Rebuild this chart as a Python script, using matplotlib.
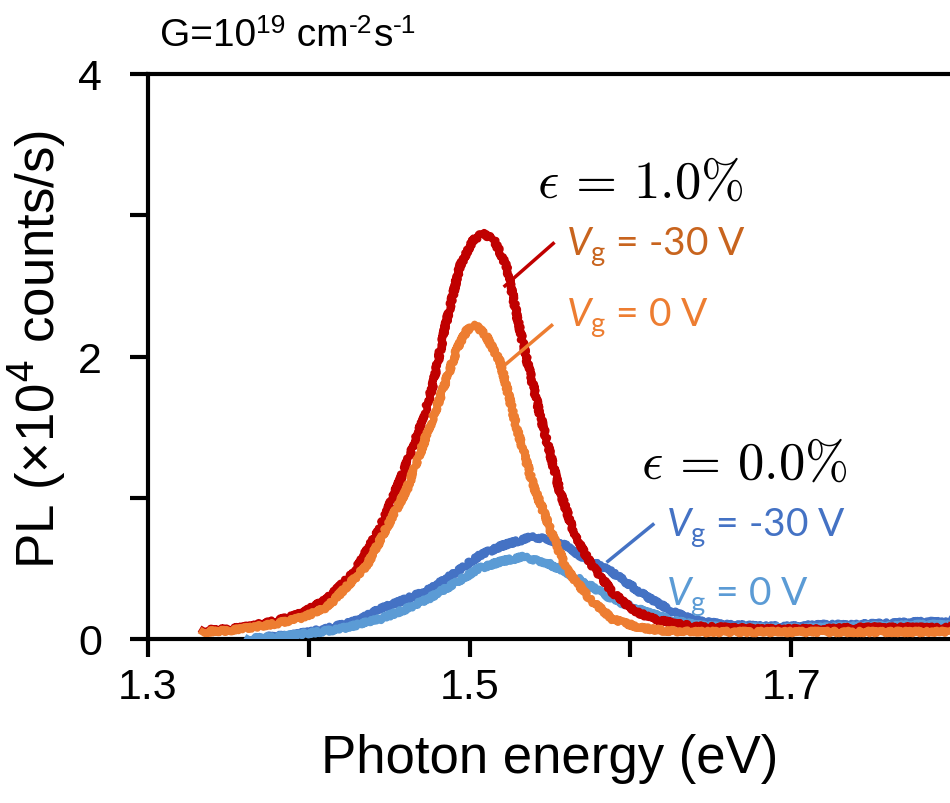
import matplotlib
matplotlib.use("Agg")
import matplotlib.pyplot as plt

plt.rcParams['font.family'] = ['Liberation Sans', 'DejaVu Sans']
plt.rcParams['mathtext.fontset'] = 'custom'
plt.rcParams['mathtext.rm'] = 'Lato'
plt.rcParams['mathtext.it'] = 'Lato:italic'

# ---- data ----
red_E = [1.334, 1.35, 1.363, 1.38, 1.395, 1.411, 1.428, 1.444, 1.457, 1.469, 1.477, 1.485,
         1.494, 1.502, 1.508, 1.515, 1.523, 1.533, 1.544, 1.556, 1.566, 1.575, 1.589, 1.602,
         1.615, 1.627, 1.64, 1.66, 1.68, 1.70, 1.72, 1.74, 1.76, 1.78, 1.80]
red_PL = [0.06, 0.07, 0.09, 0.13, 0.18, 0.28, 0.47, 0.78, 1.13, 1.49, 1.79, 2.22,
          2.64, 2.82, 2.87, 2.83, 2.64, 2.10, 1.58, 1.05, 0.72, 0.54, 0.33, 0.20,
          0.14, 0.11, 0.09, 0.08, 0.07, 0.07, 0.07, 0.08, 0.08, 0.08, 0.08]

orange_E = [1.334, 1.35, 1.363, 1.38, 1.395, 1.411, 1.436, 1.461, 1.482, 1.492, 1.498, 1.503,
            1.510, 1.519, 1.529, 1.539, 1.550, 1.560, 1.575, 1.589, 1.606, 1.62, 1.64, 1.66,
            1.68, 1.70, 1.72, 1.74, 1.76, 1.78, 1.80]
orange_PL = [0.05, 0.06, 0.08, 0.11, 0.15, 0.22, 0.52, 1.06, 1.72, 2.05, 2.18, 2.23,
             2.15, 1.96, 1.51, 1.11, 0.78, 0.50, 0.28, 0.14, 0.08, 0.06, 0.05, 0.05,
             0.05, 0.05, 0.05, 0.05, 0.05, 0.05, 0.05]

blue_E = [1.37, 1.39, 1.41, 1.43, 1.444, 1.46, 1.475, 1.49, 1.506, 1.52, 1.538, 1.548,
          1.56, 1.569, 1.589, 1.61, 1.627, 1.64, 1.66, 1.68, 1.70, 1.72, 1.74, 1.76, 1.78, 1.80]
blue_PL = [0.01, 0.03, 0.07, 0.13, 0.21, 0.28, 0.35, 0.46, 0.59, 0.66, 0.72, 0.71,
           0.66, 0.59, 0.47, 0.30, 0.19, 0.13, 0.10, 0.09, 0.09, 0.10, 0.10, 0.11, 0.12, 0.12]

lblue_E = [1.362, 1.384, 1.399, 1.419, 1.444, 1.46, 1.475, 1.49, 1.506, 1.52, 1.533, 1.548,
           1.569, 1.589, 1.61, 1.627, 1.64, 1.66, 1.68, 1.70, 1.72, 1.74, 1.76, 1.78, 1.80]
lblue_PL = [0.0, 0.02, 0.04, 0.07, 0.14, 0.21, 0.29, 0.39, 0.50, 0.55, 0.58, 0.54,
            0.42, 0.28, 0.19, 0.13, 0.10, 0.08, 0.08, 0.08, 0.08, 0.09, 0.09, 0.10, 0.10]

x_major = [1.3, 1.4, 1.5, 1.6, 1.7]
x_labels = ['1.3', '', '1.5', '', '1.7']
y_major = [0, 1, 2, 3, 4]
y_labels = ['0', '', '2', '', '4']

# title pieces: (text, is_superscript)
title_parts = [('G=10', False), ('19', True), (' cm', False), ('-2', True),
               ('s', False), ('-1', True)]

c_red = '#C00000'
c_orange = '#ED7D31'
c_blue = '#4472C4'
c_lblue = '#5B9BD5'

fig = plt.figure(figsize=(9.5, 8.04), dpi=100)
W, H = 950, 804
ax = fig.add_axes([148 / W, (H - 640) / H, 804 / W, 565 / H])

lw = 5.2
for E, P, c, z in [(blue_E, blue_PL, c_blue, 2), (lblue_E, lblue_PL, c_lblue, 3),
                   (red_E, red_PL, c_red, 4), (orange_E, orange_PL, c_orange, 5)]:
    ln, = ax.plot(E, P, color=c, lw=lw, zorder=z, solid_joinstyle='round')
    ln.set_sketch_params(scale=1.8, length=2.0, randomness=8)

ax.set_xlim(1.3, 1.8)
ax.set_ylim(0, 4)
ax.set_xticks(x_major)
ax.set_xticklabels(x_labels)
ax.set_yticks(y_major)
ax.set_yticklabels(y_labels)

for s in ['left', 'bottom', 'top']:
    ax.spines[s].set_linewidth(3)
ax.spines['right'].set_visible(False)
ax.tick_params(axis='both', direction='out', length=13, width=3, labelsize=31)
ax.tick_params(axis='y', pad=20)
ax.tick_params(axis='x', pad=7)
ax.tick_params(top=False, right=False)

ax.set_xlabel('Photon energy (eV)', fontsize=38, labelpad=19)
ax.set_ylabel(r'PL (×10$^4$ counts/s)', fontsize=38, math_fontfamily='dejavusans')
ax.yaxis.set_label_coords(-0.100, 0.515)

# title with small raised exponents, built piece by piece
renderer = fig.canvas.get_renderer()
x_px = 160
base_y = H - 46
for txt, sup in title_parts:
    fs = 19 if sup else 28
    y = base_y + (13 if sup else 0)
    t = fig.text(x_px / W, y / H, txt, fontsize=fs, va='baseline', ha='left')
    bb = t.get_window_extent(renderer=renderer)
    x_px += bb.width + (1 if sup else 0)

# annotations
ax.text(1.606, 3.23, r'$\epsilon\,=\,1.0\%$', fontsize=38, ha='center', va='center',
        math_fontfamily='cm')
ax.text(1.6706, 1.24, r'$\epsilon\,=\,0.0\%$', fontsize=38, ha='center', va='center',
        math_fontfamily='cm')

vg_kw = dict(fontsize=28, family='Lato', ha='left', va='center', math_fontfamily='custom')
ax.text(1.56, 2.78, r'$V_{\mathrm{g}}$ = -30 V', color='#C8641E', **vg_kw)
ax.text(1.56, 2.28, r'$V_{\mathrm{g}}$ = 0 V', color='#ED7D31', **vg_kw)
ax.text(1.622, 0.79, r'$V_{\mathrm{g}}$ = -30 V', color=c_blue, **vg_kw)
ax.text(1.622, 0.30, r'$V_{\mathrm{g}}$ = 0 V', color=c_lblue, **vg_kw)

# leader lines
ax.plot([1.522, 1.552], [2.50, 2.80], color=c_red, lw=2.5, zorder=6)
ax.plot([1.523, 1.551], [1.95, 2.22], color=c_orange, lw=2.5, zorder=6)
ax.plot([1.586, 1.614], [0.55, 0.81], color=c_blue, lw=2.5, zorder=6)

fig.savefig('out.png', dpi=100)
